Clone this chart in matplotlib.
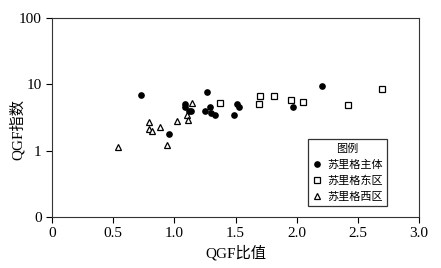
import matplotlib
matplotlib.use("Agg")
import matplotlib.pyplot as plt

plt.rcParams['font.family'] = ['Liberation Serif', 'Noto Sans CJK SC']

# 苏里格主体
main_x = [0.73, 0.96, 1.09, 1.09, 1.12, 1.14, 1.27, 1.25, 1.29, 1.30, 1.33, 1.49, 1.51, 1.53, 1.97, 2.21]
main_y = [7.0, 1.8, 5.0, 4.6, 3.9, 3.9, 7.6, 3.9, 4.5, 3.7, 3.4, 3.5, 5.1, 4.6, 4.6, 9.5]

# 苏里格东区
east_x = [1.375, 1.69, 1.70, 1.815, 1.95, 2.05, 2.42, 2.70]
east_y = [5.2, 5.0, 6.6, 6.7, 5.8, 5.4, 4.9, 8.4]

# 苏里格西区
west_x = [0.54, 0.79, 0.79, 0.82, 0.88, 0.94, 1.02, 1.105, 1.115, 1.145]
west_y = [1.12, 2.7, 2.15, 2.0, 2.3, 1.22, 2.8, 3.5, 2.95, 5.3]

x_ticks = [0, 0.5, 1.0, 1.5, 2.0, 2.5, 3.0]
x_labels = ['0', '0.5', '1.0', '1.5', '2.0', '2.5', '3.0']
y_ticks = [0.1, 1, 10, 100]
y_labels = ['0', '1', '10', '100']

fig = plt.figure(figsize=(4.41, 2.68), dpi=100)
ax = fig.add_axes([52 / 441, 1 - 217 / 268, 367 / 441, 199 / 268])

ax.plot(main_x, main_y, 'o', color='black', markersize=3.8, linestyle='none', label='苏里格主体')
ax.plot(east_x, east_y, 's', markerfacecolor='white', markeredgecolor='black',
        markeredgewidth=0.9, markersize=4.2, linestyle='none', label='苏里格东区')
ax.plot(west_x, west_y, '^', markerfacecolor='white', markeredgecolor='black',
        markeredgewidth=0.9, markersize=5, linestyle='none', label='苏里格西区')

ax.set_yscale('log')
ax.set_xlim(0, 3.0)
ax.set_ylim(0.1, 100)
ax.set_xticks(x_ticks)
ax.set_xticklabels(x_labels)
ax.set_yticks(y_ticks)
ax.set_yticklabels(y_labels)
ax.minorticks_off()
ax.tick_params(direction='out', length=4, width=0.8, labelsize=11, colors='black')
for s in ax.spines.values():
    s.set_linewidth(0.8)
    s.set_color('#333333')

ax.set_xlabel('QGF比值', fontsize=11, labelpad=3)
ax.set_ylabel('QGF指数', fontsize=11)
ax.yaxis.set_label_coords(-0.074, 0.44)

leg = ax.legend(title='图例', loc='lower right', bbox_to_anchor=(0.913, 0.055),
                fontsize=8, title_fontsize=8, frameon=True, fancybox=False,
                edgecolor='black', handlelength=0.8, handletextpad=0.5,
                borderpad=0.4, labelspacing=0.5, borderaxespad=0)
leg.get_frame().set_linewidth(0.9)

fig.savefig('out.png', dpi=100)
